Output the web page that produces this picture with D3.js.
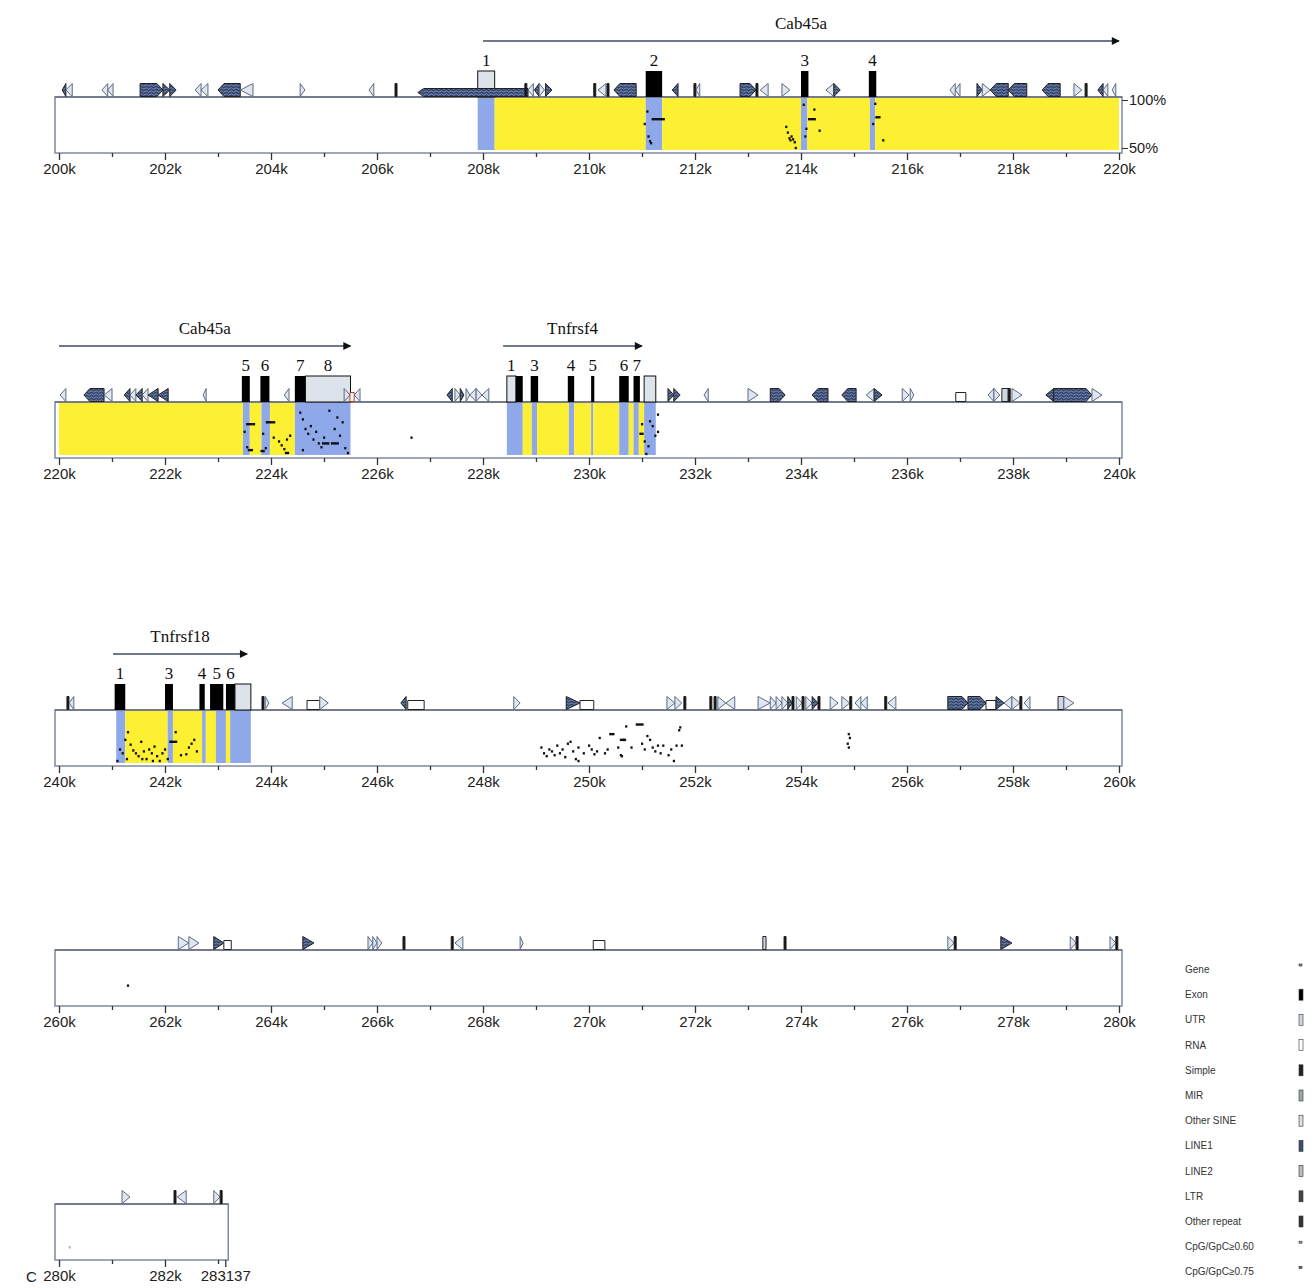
<!DOCTYPE html>
<html>
<head>
<meta charset="utf-8">
<script src="https://cdn.jsdelivr.net/npm/d3@7"></script>
<style>
  body { margin: 0; background: #fff; }
</style>
</head>
<body>
<div id="chart"></div>
<script>
let w = 1313;
let h = 1288;

// ---- data (positions in kb) ----
const panelStarts = [200, 220, 240, 260, 280];
const panelEnds = [220, 240, 260, 280, 283.137];

// genes: name, start, end (all forward strand)
const genes = [
  ["Cab45a", 208.0, 225.5],
  ["Tnfrsf4", 228.38, 231.0],
  ["Tnfrsf18", 241.02, 243.55]
];

// exons: start, end, kind, number
const exons = [
  [207.9, 208.22, "utr", "1"],
  [211.07, 211.38, "cds", "2"],
  [214.0, 214.14, "cds", "3"],
  [215.28, 215.42, "cds", "4"],
  [223.45, 223.6, "cds", "5"],
  [223.8, 223.97, "cds", "6"],
  [224.45, 224.65, "cds", "7"],
  [224.65, 225.5, "utr", "8"],
  [228.45, 228.62, "utr", "1"],
  [228.62, 228.75, "cds", ""],
  [228.9, 229.04, "cds", "3"],
  [229.6, 229.72, "cds", "4"],
  [230.04, 230.1, "cds", "5"],
  [230.57, 230.75, "cds", "6"],
  [230.84, 230.96, "cds", "7"],
  [231.04, 231.26, "utr", ""],
  [241.05, 241.25, "cds", "1"],
  [242.0, 242.15, "cds", "3"],
  [242.65, 242.75, "cds", "4"],
  [242.85, 243.1, "cds", "5"],
  [243.15, 243.32, "cds", "6"],
  [243.32, 243.62, "utr", ""]
];

// shaded background of the identity plot: start, end, kind
const blocks = [
  [207.9, 208.22, "exon"], [208.22, 211.07, "intron"], [211.07, 211.38, "exon"],
  [211.38, 214.0, "intron"], [214.0, 214.12, "exon"], [214.12, 215.3, "intron"],
  [215.3, 215.4, "exon"], [215.4, 220.0, "intron"],
  [220.0, 223.47, "intron"], [223.47, 223.6, "exon"], [223.6, 223.82, "intron"],
  [223.82, 223.98, "exon"], [223.98, 224.45, "intron"], [224.45, 225.5, "exon"],
  [228.45, 228.75, "exon"], [228.75, 228.92, "intron"], [228.92, 229.02, "exon"],
  [229.02, 229.62, "intron"], [229.62, 229.72, "exon"], [229.72, 230.04, "intron"],
  [230.04, 230.08, "exon"], [230.08, 230.57, "intron"], [230.57, 230.75, "exon"],
  [230.75, 230.84, "intron"], [230.84, 230.94, "exon"], [230.94, 231.04, "intron"],
  [231.04, 231.26, "exon"],
  [241.08, 241.25, "exon"], [241.25, 242.05, "intron"], [242.05, 242.15, "exon"],
  [242.15, 242.7, "intron"], [242.7, 242.77, "exon"], [242.77, 242.96, "intron"],
  [242.96, 243.15, "exon"], [243.15, 243.23, "intron"], [243.23, 243.62, "exon"]
];

// repeats: start, end, type, strand
const repeats = [
  [200.06, 200.13, "line1", "-"], [200.13, 200.25, "mir", "-"],
  [200.81, 200.92, "mir", "-"], [200.92, 201.02, "mir", "-"],
  [201.53, 201.96, "line1", "+"], [201.96, 202.09, "line1", "+"], [202.09, 202.21, "line1", "+"],
  [202.57, 202.68, "mir", "-"], [202.68, 202.81, "mir", "-"],
  [203.0, 203.42, "line1", "-"], [203.42, 203.66, "mir", "-"],
  [204.55, 204.64, "mir", "+"], [205.85, 205.94, "mir", "-"], [206.34, 206.38, "simple", "+"],
  [206.77, 208.85, "line2", "-"],
  [208.79, 208.83, "simple", "+"], [208.85, 208.95, "mir", "-"], [208.97, 209.06, "line1", "-"],
  [209.06, 209.16, "mir", "+"], [209.18, 209.3, "line1", "+"],
  [210.09, 210.14, "simple", "+"], [210.17, 210.32, "mir", "-"], [210.34, 210.38, "simple", "+"],
  [210.47, 210.89, "line1", "-"], [211.57, 211.68, "line1", "-"],
  [211.98, 212.02, "simple", "+"], [212.02, 212.09, "mir", "-"],
  [212.85, 213.15, "line1", "+"], [213.15, 213.2, "simple", "+"], [213.23, 213.38, "mir", "-"],
  [213.64, 213.79, "mir", "+"], [214.47, 214.62, "mir", "-"], [214.62, 214.74, "line1", "+"],
  [216.81, 216.91, "mir", "-"], [216.91, 217.0, "mir", "-"],
  [217.32, 217.42, "line1", "+"], [217.42, 217.57, "mir", "+"],
  [217.57, 217.91, "line1", "-"], [217.91, 218.26, "line1", "-"], [218.55, 218.89, "line1", "-"],
  [219.15, 219.3, "mir", "+"], [219.36, 219.4, "simple", "+"],
  [219.6, 219.7, "line1", "-"], [219.7, 219.79, "mir", "-"], [219.87, 219.94, "mir", "-"],

  [220.02, 220.13, "mir", "-"], [220.47, 220.85, "line1", "-"], [220.85, 221.0, "mir", "-"],
  [221.23, 221.34, "line1", "-"], [221.34, 221.45, "mir", "-"], [221.45, 221.57, "line1", "-"],
  [221.57, 221.68, "mir", "-"], [221.68, 221.87, "line1", "-"], [221.87, 222.06, "line1", "-"],
  [222.72, 222.77, "mir", "-"], [224.25, 224.34, "mir", "-"],
  [225.38, 225.49, "mir", "+"], [225.49, 225.57, "rna", "+"], [225.57, 225.68, "mir", "-"],
  [227.32, 227.42, "line1", "-"], [227.47, 227.57, "mir", "+"], [227.57, 227.64, "line1", "+"],
  [227.68, 227.75, "mir", "+"], [227.75, 227.87, "mir", "-"], [227.87, 227.98, "mir", "+"],
  [227.98, 228.11, "mir", "-"],
  [231.49, 231.6, "line1", "+"], [231.6, 231.72, "line1", "+"], [232.17, 232.25, "mir", "-"],
  [233.0, 233.19, "mir", "+"], [233.42, 233.7, "line1", "+"], [234.21, 234.51, "line1", "-"],
  [234.77, 235.04, "line1", "-"], [235.23, 235.38, "mir", "-"], [235.38, 235.53, "line1", "+"],
  [235.91, 236.04, "mir", "+"], [236.06, 236.13, "mir", "+"], [236.92, 237.11, "ltr", "+"],
  [237.53, 237.64, "mir", "-"], [237.64, 237.75, "mir", "+"], [237.79, 237.91, "other", "+"],
  [237.91, 237.97, "simple", "+"], [237.98, 238.17, "mir", "+"],
  [238.62, 238.77, "line1", "-"], [238.77, 239.49, "line1", "+"], [239.49, 239.68, "mir", "+"],

  [240.15, 240.19, "simple", "+"], [240.19, 240.28, "mir", "-"],
  [243.83, 243.89, "simple", "+"], [243.89, 243.96, "mir", "+"], [244.21, 244.4, "mir", "-"],
  [244.68, 244.92, "ltr", "+"], [244.92, 245.08, "mir", "+"],
  [246.45, 246.55, "line1", "-"], [246.58, 246.89, "ltr", "+"], [248.58, 248.7, "mir", "+"],
  [249.57, 249.83, "line1", "+"], [249.83, 250.09, "ltr", "+"],
  [251.47, 251.62, "mir", "+"], [251.62, 251.75, "mir", "+"], [251.79, 251.85, "simple", "+"],
  [252.28, 252.33, "simple", "+"], [252.36, 252.41, "simple", "+"], [252.43, 252.58, "mir", "+"],
  [252.58, 252.75, "mir", "-"],
  [253.19, 253.42, "mir", "+"], [253.42, 253.53, "mir", "+"], [253.53, 253.64, "mir", "+"],
  [253.64, 253.75, "mir", "+"], [253.75, 253.83, "line1", "+"], [253.83, 253.88, "simple", "+"],
  [253.91, 254.02, "mir", "+"], [254.02, 254.07, "simple", "+"], [254.09, 254.21, "mir", "+"],
  [254.21, 254.32, "line1", "+"], [254.32, 254.37, "simple", "+"],
  [254.55, 254.7, "mir", "+"], [254.77, 254.92, "mir", "+"], [254.92, 254.97, "simple", "+"],
  [255.02, 255.13, "mir", "-"], [255.13, 255.25, "mir", "-"],
  [255.58, 255.63, "simple", "+"], [255.64, 255.79, "mir", "-"],
  [256.77, 257.15, "line1", "+"], [257.15, 257.49, "line1", "+"], [257.49, 257.68, "ltr", "+"],
  [257.68, 257.83, "line1", "+"], [257.83, 257.98, "mir", "-"], [257.98, 258.13, "mir", "+"],
  [258.13, 258.18, "simple", "+"], [258.21, 258.32, "mir", "-"],
  [258.85, 258.96, "other", "+"], [258.96, 259.15, "mir", "+"],

  [262.25, 262.45, "mir", "+"], [262.45, 262.64, "mir", "+"],
  [262.92, 263.11, "line1", "+"], [263.11, 263.25, "ltr", "+"], [264.6, 264.81, "line1", "+"],
  [265.83, 265.92, "mir", "+"], [265.92, 266.0, "mir", "+"], [266.0, 266.09, "mir", "+"],
  [266.49, 266.53, "simple", "+"], [267.4, 267.46, "simple", "+"], [267.47, 267.62, "mir", "-"],
  [268.7, 268.75, "mir", "+"], [270.08, 270.3, "ltr", "+"],
  [273.28, 273.34, "other", "+"], [273.68, 273.72, "simple", "+"],
  [276.77, 276.89, "mir", "+"], [276.89, 276.93, "simple", "+"], [277.77, 277.98, "line1", "+"],
  [279.08, 279.19, "mir", "+"], [279.19, 279.23, "simple", "+"],
  [279.83, 279.94, "mir", "+"], [279.94, 279.98, "simple", "+"],

  [281.19, 281.34, "mir", "+"], [282.17, 282.22, "simple", "+"], [282.23, 282.4, "mir", "-"],
  [282.92, 283.04, "mir", "+"], [283.04, 283.09, "simple", "+"]
];

// gap-free alignments: start, end, percent identity
const hits = [
  [211.05, 211.05, 75], [211.1, 211.1, 88], [211.12, 211.12, 62], [211.15, 211.15, 57],
  [211.17, 211.17, 55], [211.2, 211.45, 80],
  [213.72, 213.72, 72], [213.75, 213.75, 66], [213.78, 213.78, 60], [213.8, 213.8, 58],
  [213.85, 213.85, 59], [213.88, 213.88, 56], [213.9, 213.9, 50], [213.82, 213.82, 62],
  [214.05, 214.05, 95], [214.1, 214.1, 70], [214.08, 214.08, 62], [214.15, 214.3, 80],
  [214.25, 214.25, 90], [214.35, 214.35, 68],
  [215.4, 215.4, 96], [215.36, 215.36, 75], [215.42, 215.52, 82], [215.55, 215.55, 58],

  [223.55, 223.72, 80], [223.5, 223.5, 72], [223.55, 223.55, 56], [223.58, 223.68, 53],
  [223.92, 224.1, 82], [223.85, 223.85, 70], [223.9, 223.9, 55], [223.82, 223.9, 52],
  [224.05, 224.05, 66], [224.15, 224.15, 62], [224.2, 224.2, 58], [224.25, 224.25, 54],
  [224.28, 224.28, 50], [224.32, 224.32, 50], [224.36, 224.36, 68], [224.3, 224.3, 64],
  [224.55, 224.55, 92], [224.6, 224.6, 85], [224.65, 224.65, 75], [224.7, 224.7, 70],
  [224.75, 224.75, 78], [224.8, 224.8, 64], [224.85, 224.85, 72], [224.9, 224.9, 60],
  [224.95, 224.95, 56], [225.0, 225.0, 66], [224.98, 225.12, 60], [225.15, 225.3, 60],
  [225.2, 225.2, 75], [225.25, 225.25, 87], [225.3, 225.3, 68], [225.35, 225.35, 82],
  [225.4, 225.4, 55], [225.1, 225.1, 94], [224.6, 224.6, 53], [225.45, 225.45, 50],
  [226.65, 226.65, 66],
  [231.0, 231.0, 80], [230.97, 231.05, 70], [231.05, 231.05, 62], [231.15, 231.15, 83],
  [231.2, 231.2, 78], [231.25, 231.25, 68], [231.12, 231.12, 57], [231.08, 231.08, 49],
  [231.3, 231.3, 90], [231.3, 231.3, 72],

  [241.1, 241.1, 50], [241.15, 241.15, 62], [241.2, 241.2, 58], [241.25, 241.25, 72],
  [241.3, 241.3, 80], [241.35, 241.35, 67], [241.4, 241.4, 61], [241.45, 241.45, 58],
  [241.5, 241.5, 55], [241.55, 241.55, 70], [241.6, 241.6, 60], [241.65, 241.65, 52],
  [241.7, 241.7, 62], [241.75, 241.75, 58], [241.8, 241.8, 65], [241.85, 241.85, 55],
  [241.9, 241.9, 50], [241.95, 241.95, 58], [242.0, 242.0, 62], [242.05, 242.05, 52],
  [242.1, 242.25, 70], [242.3, 242.3, 56], [242.4, 242.4, 57], [242.45, 242.45, 64],
  [242.5, 242.5, 68], [242.55, 242.55, 72], [242.6, 242.6, 60], [241.28, 241.28, 52],
  [241.57, 241.57, 52], [241.77, 241.77, 50], [242.2, 242.2, 80],
  [249.1, 249.1, 64], [249.15, 249.15, 58], [249.2, 249.2, 55], [249.25, 249.25, 62],
  [249.3, 249.3, 60], [249.35, 249.35, 56], [249.4, 249.4, 66], [249.45, 249.45, 58],
  [249.5, 249.5, 62], [249.55, 249.55, 54], [249.6, 249.6, 68], [249.65, 249.65, 70],
  [249.7, 249.7, 60], [249.75, 249.75, 52], [249.8, 249.8, 64], [249.9, 249.9, 58],
  [250.0, 250.0, 66], [250.05, 250.05, 62], [250.1, 250.1, 57], [250.15, 250.15, 60],
  [250.2, 250.2, 74], [250.3, 250.3, 58], [250.35, 250.35, 62], [250.4, 250.5, 78],
  [250.55, 250.55, 64], [250.6, 250.6, 56], [250.65, 250.65, 72], [250.7, 250.7, 86],
  [250.6, 250.72, 72], [250.8, 250.8, 64], [250.9, 251.05, 88], [251.0, 251.0, 68],
  [251.05, 251.05, 62], [251.1, 251.1, 76], [251.15, 251.15, 72], [251.2, 251.2, 64],
  [251.25, 251.25, 60], [251.3, 251.3, 66], [251.35, 251.35, 58], [251.4, 251.4, 66],
  [251.5, 251.5, 56], [251.55, 251.55, 62], [251.6, 251.6, 50], [251.65, 251.65, 66],
  [251.75, 251.75, 66], [251.7, 251.7, 82], [251.72, 251.72, 85], [249.8, 249.8, 50],
  [250.62, 250.62, 55],
  [254.9, 254.9, 78], [254.92, 254.92, 74], [254.88, 254.88, 68], [254.9, 254.9, 64],

  [261.3, 261.3, 66],
  [280.2, 280.2, 58]
];

const legendLabels = ["Gene", "Exon", "UTR", "RNA", "Simple", "MIR", "Other SINE",
  "LINE1", "LINE2", "LTR", "Other repeat", "CpG/GpC\u22650.60", "CpG/GpC\u22650.75"];
const legendColors = ["#888", "#000", "#cfd6df", "#fff", "#222", "#9aa", "#ddd",
  "#3d4f78", "#bbb", "#444", "#333", "#999", "#666"];

// ---- layout ----
let panelTops = [97, 402, 710, 950, 1204];
let boxH = 56;
let left = 59, right = 1119;

let viz = d3.select("#chart")
  .append("svg")
  .attr("width", w)
  .attr("height", h)
  .style("font-family", "'Liberation Sans', Arial, sans-serif");

let defs = viz.append("defs");
let pat = defs.append("pattern")
  .attr("id", "hatch")
  .attr("width", 5).attr("height", 3)
  .attr("patternUnits", "userSpaceOnUse");
pat.append("rect").attr("width", 5).attr("height", 3).attr("fill", "#34466e");
pat.append("path").attr("d", "M0,1.5 Q1.25,0 2.5,1.5 T5,1.5")
  .attr("stroke", "#9fb0d8").attr("stroke-width", 0.7).attr("fill", "none");

defs.append("marker")
  .attr("id", "arrow")
  .attr("viewBox", "0 0 10 10")
  .attr("refX", 9).attr("refY", 5)
  .attr("markerWidth", 11).attr("markerHeight", 8)
  .attr("markerUnits", "userSpaceOnUse")
  .attr("orient", "auto")
  .append("path").attr("d", "M0,0 L10,5 L0,10 Z").attr("fill", "#111");

const colors = {exon: "#8fa8ea", intron: "#fdf033"};

function clip(s, e, p) {
  return [Math.max(s, panelStarts[p]), Math.min(e, panelEnds[p])];
}
function inPanel(s, e, p) {
  return e > panelStarts[p] && s < panelEnds[p];
}

panelStarts.forEach(function(start, p){
  let top = panelTops[p];
  let bottom = top + boxH;
  let end = panelEnds[p];
  let g = viz.append("g").attr("class", "panel");

  let x = d3.scaleLinear().domain([start, start + 20]).range([left, right]);
  let y = d3.scaleLinear().domain([50, 100]).range([bottom - 5, top + 3]);

  // background blocks
  g.selectAll(".block").data(blocks.filter(d => inPanel(d[0], d[1], p))).enter()
    .append("rect")
    .attr("x", d => x(clip(d[0], d[1], p)[0]))
    .attr("width", d => x(clip(d[0], d[1], p)[1]) - x(clip(d[0], d[1], p)[0]))
    .attr("y", top + 1)
    .attr("height", boxH - 4)
    .attr("fill", d => colors[d[2]]);

  // box
  g.append("rect")
    .attr("x", x(start) - 4)
    .attr("y", top)
    .attr("width", x(end) - x(start) + 7)
    .attr("height", boxH)
    .attr("fill", "none")
    .attr("stroke", "#7f8ba0")
    .attr("stroke-width", 1.5);
  g.append("line")
    .attr("x1", x(start) - 4).attr("x2", x(end) + 3)
    .attr("y1", top).attr("y2", top)
    .attr("stroke", "#4a5066").attr("stroke-width", 1.2);

  // alignment hits
  g.selectAll(".hit").data(hits.filter(d => inPanel(d[0], d[1] + 0.01, p))).enter()
    .append("rect")
    .attr("x", d => x(d[0]) - 1)
    .attr("width", d => Math.max(x(d[1]) - x(d[0]), 2.2))
    .attr("y", d => y(d[2]) - 1.2)
    .attr("height", 2.4)
    .attr("fill", d => p == 4 ? "#bbb" : "#111");

  // axis
  let ticks = d3.range(Math.ceil(start), Math.floor(end) + 1);
  let majorVals = ticks.filter(d => d % 2 == 0);
  let minorVals = ticks.filter(d => d % 2 != 0);
  if (end % 1 != 0) majorVals.push(end);

  let minor = d3.axisBottom(x).tickValues(minorVals).tickSize(4).tickFormat("");
  let major = d3.axisBottom(x).tickValues(majorVals).tickSize(7).tickPadding(3)
    .tickFormat(d => d % 1 != 0 ? String(Math.round(d * 1000)) : d + "k");

  [minor, major].forEach(function(ax){
    let a = g.append("g").attr("transform", "translate(0," + bottom + ")").call(ax);
    a.select(".domain").remove();
    a.selectAll("line").attr("stroke", "#333").attr("stroke-width", 1.3);
    a.selectAll("text").attr("font-size", 15).attr("fill", "#222")
      .attr("font-family", "'Liberation Sans', Arial, sans-serif");
  });

  // percent labels on first panel
  if (p == 0) {
    let pa = g.append("g").attr("transform", "translate(" + (x(end) + 3) + ",0)")
      .call(d3.axisRight(y).tickValues([50, 100]).tickSize(6).tickPadding(1)
        .tickFormat(d => d + "%"));
    pa.select(".domain").remove();
    pa.selectAll("line").attr("stroke", "#333");
    pa.selectAll("text").attr("font-size", 14.5).attr("fill", "#222")
      .attr("font-family", "'Liberation Sans', Arial, sans-serif");
  }

  // genes
  genes.filter(d => inPanel(d[1], d[2], p)).forEach(function(d){
    let c = clip(d[1], d[2], p);
    g.append("line")
      .attr("x1", x(c[0])).attr("x2", x(c[1]))
      .attr("y1", top - 56).attr("y2", top - 56)
      .attr("stroke", "#3c4a6a").attr("stroke-width", 1.3)
      .attr("marker-end", "url(#arrow)");
    g.append("text")
      .attr("x", (x(c[0]) + x(c[1])) / 2)
      .attr("y", top - 68)
      .attr("text-anchor", "middle")
      .attr("font-family", "'Liberation Serif', 'Times New Roman', serif")
      .attr("font-size", 17)
      .attr("fill", "#111")
      .text(d[0]);
  });

  // exons
  let ex = exons.filter(d => inPanel(d[0], d[1], p));
  g.selectAll(".exon").data(ex).enter()
    .append("rect")
    .attr("x", d => x(d[0]))
    .attr("width", d => Math.max(x(d[1]) - x(d[0]), 2.5))
    .attr("y", top - 26)
    .attr("height", 26)
    .attr("fill", d => d[2] == "cds" ? "#000" : "#dde3ea")
    .attr("stroke", "#111")
    .attr("stroke-width", d => d[2] == "cds" ? 0 : 1);
  g.selectAll(".exnum").data(ex.filter(d => d[3] != "")).enter()
    .append("text")
    .attr("x", d => (x(d[0]) + x(d[1])) / 2)
    .attr("y", top - 31)
    .attr("text-anchor", "middle")
    .attr("font-family", "'Liberation Serif', 'Times New Roman', serif")
    .attr("font-size", 17)
    .attr("fill", "#111")
    .text(d => d[3]);

  // repeats
  g.selectAll(".rep").data(repeats.filter(d => inPanel(d[0], d[1], p))).enter()
    .append("path")
    .attr("d", function(d){
      let x0 = x(d[0]), x1 = Math.max(x(d[1]), x0 + 3);
      let b = top - 0.5;
      if (d[2] == "simple") {
        let x2 = x0 + 2;
        return "M" + x0 + "," + b + "L" + x0 + "," + (b - 13) + "L" + x2 + "," + (b - 13) + "L" + x2 + "," + b + "Z";
      }
      if (d[2] == "ltr" || d[2] == "rna" || d[2] == "other") {
        let hh = d[2] == "other" ? 13 : 9;
        return "M" + x0 + "," + b + "L" + x0 + "," + (b - hh) + "L" + x1 + "," + (b - hh) + "L" + x1 + "," + b + "Z";
      }
      let hh = d[2] == "line2" ? 8 : 13;
      let t = (x1 - x0) < 14 ? (x1 - x0) : 6;
      if (d[3] == "+") {
        return "M" + x0 + "," + b + "L" + x0 + "," + (b - hh) + "L" + (x1 - t) + "," + (b - hh)
          + "L" + x1 + "," + (b - hh / 2) + "L" + (x1 - t) + "," + b + "Z";
      }
      return "M" + x1 + "," + b + "L" + x1 + "," + (b - hh) + "L" + (x0 + t) + "," + (b - hh)
        + "L" + x0 + "," + (b - hh / 2) + "L" + (x0 + t) + "," + b + "Z";
    })
    .attr("fill", function(d){
      if (d[2] == "line1" || d[2] == "line2") return "url(#hatch)";
      if (d[2] == "simple") return "#111";
      if (d[2] == "mir") return "#dfe6ef";
      if (d[2] == "other") return "#cfd8e2";
      return "#fff";
    })
    .attr("stroke", function(d){
      if (d[2] == "rna") return "#c0392b";
      if (d[2] == "mir") return "#5d6b82";
      return "#222";
    })
    .attr("stroke-width", 1);
});

// legend (cut off at the right edge like the figure)
let legend = viz.append("g").attr("class", "legend");
legend.selectAll("text").data(legendLabels).enter()
  .append("text")
  .attr("x", 1185)
  .attr("y", (d, i) => 973 + i * 25.2)
  .attr("font-size", 10)
  .attr("fill", "#333")
  .text(d => d);
legend.selectAll("rect").data(legendColors).enter()
  .append("rect")
  .attr("x", 1299)
  .attr("y", (d, i) => 964 + i * 25.2)
  .attr("width", (d, i) => i == 0 || i > 10 ? 3 : 4)
  .attr("height", (d, i) => i == 0 || i > 10 ? 2 : 11)
  .attr("fill", d => d)
  .attr("stroke", "#333")
  .attr("stroke-width", 0.6);

viz.append("text")
  .attr("x", 26).attr("y", 1282)
  .attr("font-size", 15)
  .attr("fill", "#222")
  .text("C");
</script>
</body>
</html>
